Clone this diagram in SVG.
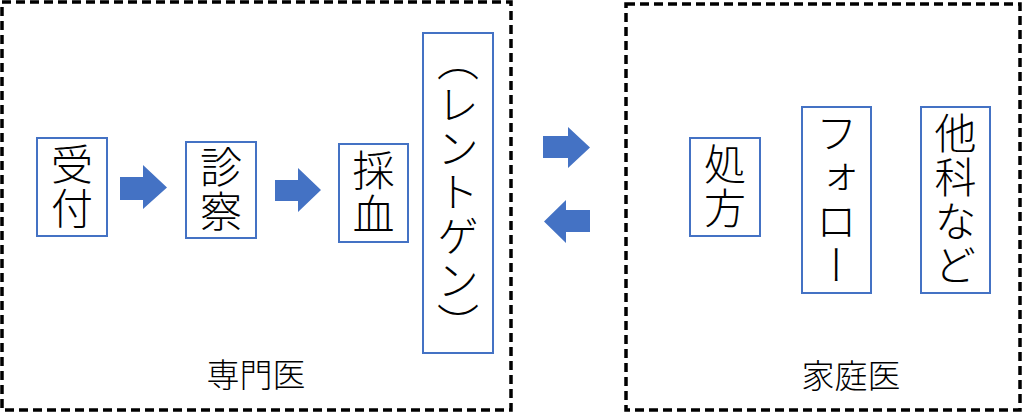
<svg xmlns="http://www.w3.org/2000/svg" width="1024" height="420" viewBox="0 0 1024 420">
<style>
.grp{fill:none;stroke:#000;stroke-width:3.5;stroke-dasharray:9 5}
.box{fill:#fff;stroke:#4472C4;stroke-width:2}
.vt{font-family:"Noto Sans CJK JP","Noto Sans CJK SC",sans-serif;font-weight:300;font-size:42px;writing-mode:vertical-rl;text-anchor:middle;fill:#000;letter-spacing:2px}
.lbl{font-family:"Noto Sans CJK JP","Noto Sans CJK SC",sans-serif;font-weight:300;font-size:33px;text-anchor:middle;fill:#000}
.arr{fill:#4472C4}
</style>
<g id="specialist">
<rect class="grp" x="2" y="2" width="509" height="408"/>
<text class="lbl" x="256" y="387">専門医</text>
</g>
<g id="family">
<rect class="grp" x="626" y="4" width="394" height="406"/>
<text class="lbl" x="851" y="388">家庭医</text>
</g>
<g id="n1"><rect class="box" x="37" y="138" width="70" height="98"/><text class="vt" x="72" y="187">受付</text></g>
<g id="n2"><rect class="box" x="186" y="142" width="70" height="96"/><text class="vt" x="221" y="190">診察</text></g>
<g id="n3"><rect class="box" x="339" y="144" width="69" height="98"/><text class="vt" x="373.5" y="193">採血</text></g>
<g id="n4"><rect class="box" x="423" y="33" width="70" height="320"/><text class="vt" x="458" y="193">（レントゲン）</text></g>
<g id="n5"><rect class="box" x="690" y="138" width="70" height="98"/><text class="vt" x="725" y="187">処方</text></g>
<g id="n6"><rect class="box" x="802" y="107" width="69" height="186"/><text class="vt" x="836.5" y="200">フォロー</text></g>
<g id="n7"><rect class="box" x="921" y="107" width="69" height="186"/><text class="vt" x="955.5" y="200">他科など</text></g>
<g id="connectors">
<polygon class="arr" points="120,177 143,177 143,165 167,187.5 143,209 143,200 120,200"/>
<polygon class="arr" points="275,180 298,180 298,168 321,190 298,212 298,201 275,201"/>
<polygon class="arr" points="543,136 568,136 568,127 590,147.5 568,168 568,158 543,158"/>
<polygon class="arr" points="590,210 566,210 566,200 544,221.5 566,243 566,232 590,232"/>
</g>
</svg>
